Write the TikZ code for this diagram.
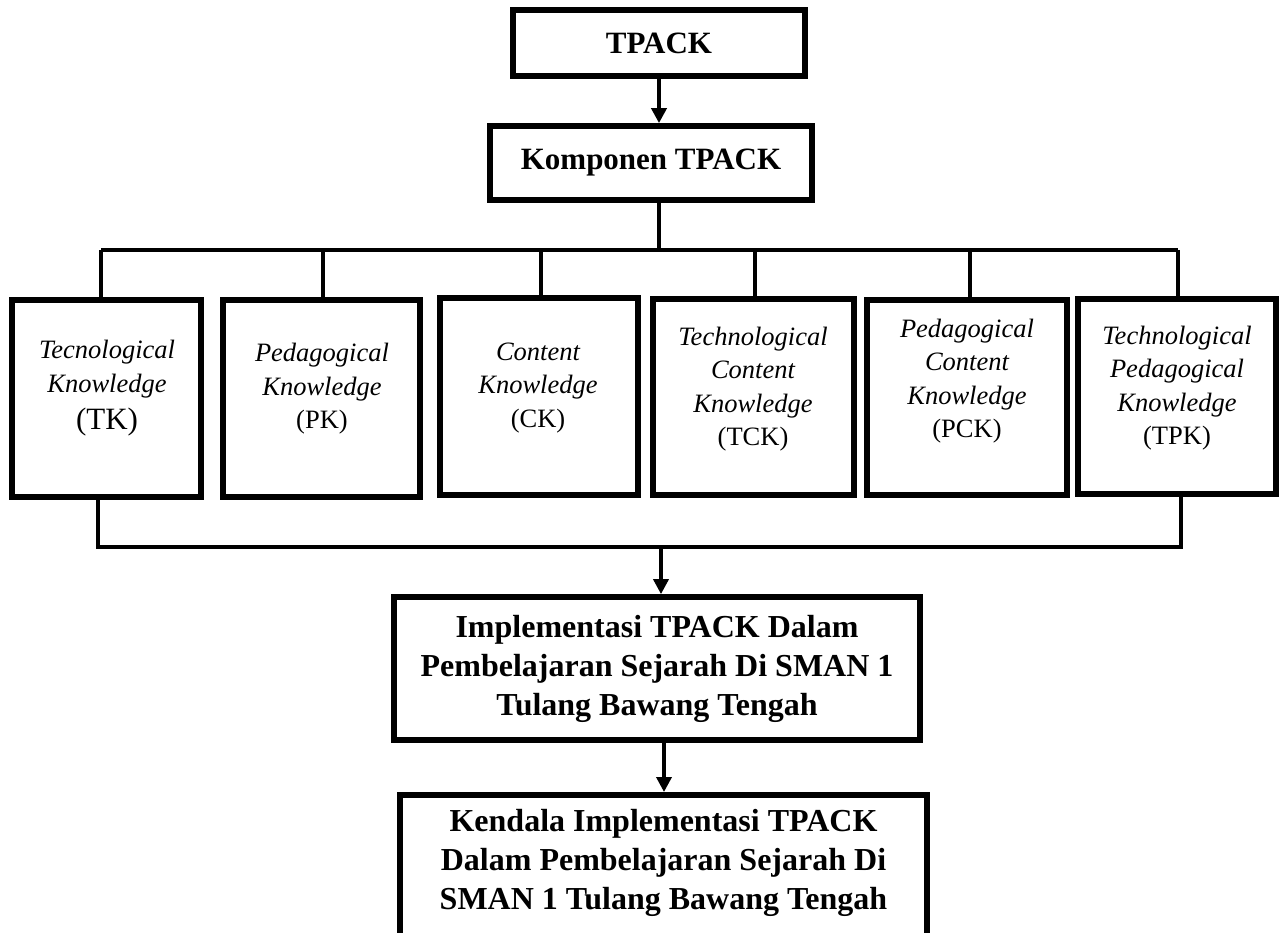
\documentclass[tikz,border=0pt]{standalone}
\usepackage{fontspec}
\setmainfont{Liberation Serif}
\usetikzlibrary{arrows.meta}
\begin{document}
\begin{tikzpicture}[x=1pt,y=-1pt,
  box/.style={draw,line width=5.7pt,inner sep=0pt,fill=white},
  conn/.style={draw,line width=3.5pt,line join=miter},
  arr/.style={draw,line width=3.5pt,-{Triangle[length=15pt,width=15pt]}},
  btop/.style={font=\fontsize{31}{38}\selectfont\bfseries},
  blow/.style={font=\fontsize{32}{39}\selectfont\bfseries,align=center,inner sep=0pt},
  itext/.style={font=\fontsize{26.5}{33.5}\selectfont\itshape,align=center,inner sep=0pt}]
\useasboundingbox (0,0) rectangle (1280,933);
\clip (0,0) rectangle (1280,933);
\fill[white] (0,0) rectangle (1280,933);

% top boxes
\node[box,btop,minimum width=292pt,minimum height=66pt] (tpack) at (659,43) {TPACK};
\node[box,btop,minimum width=322pt,minimum height=74pt] (komp) at (651,163) {Komponen TPACK};
\draw[arr,line width=4.5pt] (tpack.south) -- (tpack.south |- komp.north);

% component boxes
\node[box,minimum width=189pt,minimum height=197pt] (b1) at (106.5,398.5) {};
\node[box,minimum width=197pt,minimum height=197pt] (b2) at (321.5,398.5) {};
\node[box,minimum width=198pt,minimum height=197pt] (b3) at (539,396.5) {};
\node[box,minimum width=201pt,minimum height=196pt] (b4) at (753.5,397) {};
\node[box,minimum width=200pt,minimum height=195pt] (b5) at (967,397.5) {};
\node[box,minimum width=198pt,minimum height=195pt] (b6) at (1177,396.5) {};

\node[itext] (t1) at (107,388) {Tecnological\\Knowledge\\[3.5pt]{\upshape\fontsize{31}{37}\selectfont (TK)}};
\node[itext] (t2) at (322,389) {Pedagogical\\Knowledge\\\upshape (PK)};
\node[itext] (t3) at (538,388) {Content\\Knowledge\\\upshape (CK)};
\node[itext] (t4) at (753,389) {Technological\\Content\\Knowledge\\\upshape (TCK)};
\node[itext] (t5) at (967,381) {Pedagogical\\Content\\Knowledge\\\upshape (PCK)};
\node[itext] (t6) at (1177,388) {Technological\\Pedagogical\\Knowledge\\\upshape (TPK)};

% upper distribution bar
\coordinate (bar) at (659,250);
\draw[conn] (komp.south -| bar) -- (bar);
\draw[conn] ([xshift=-5.5pt]b1.north |- bar) -- ([xshift=1pt]b6.north |- bar);
\draw[conn] ([xshift=-5.5pt]b1.north |- bar) -- ([xshift=-5.5pt]b1.north);
\draw[conn] ([xshift=1.5pt]b2.north |- bar) -- ([xshift=1.5pt]b2.north);
\draw[conn] ([xshift=2pt]b3.north |- bar) -- ([xshift=2pt]b3.north);
\draw[conn] ([xshift=1.5pt]b4.north |- bar) -- ([xshift=1.5pt]b4.north);
\draw[conn] ([xshift=3pt]b5.north |- bar) -- ([xshift=3pt]b5.north);
\draw[conn] ([xshift=1pt]b6.north |- bar) -- ([xshift=1pt]b6.north);

% lower collection bar
\coordinate (low) at (661,547);
\draw[conn] ([xshift=-8.5pt]b1.south) |- ([xshift=4pt]b6.south |- low) -- ([xshift=4pt]b6.south);

% lower boxes
\node[box,blow,minimum width=526pt,minimum height=143pt] (impl) at (657,668.5)
  {Implementasi TPACK Dalam\\Pembelajaran Sejarah Di SMAN 1\\Tulang Bawang Tengah};
\draw[arr] (low) -- (impl.north -| low);

\node[box,minimum width=527pt,minimum height=160pt,anchor=north] (kend) at (663.5,792) {};
\node[blow] (ktext) at (663.5,863) {Kendala Implementasi TPACK\\Dalam Pembelajaran Sejarah Di\\SMAN 1 Tulang Bawang Tengah};
\draw[arr] ([xshift=7pt]impl.south) -- ([xshift=7pt]impl.south |- kend.north);
\end{tikzpicture}
\end{document}
